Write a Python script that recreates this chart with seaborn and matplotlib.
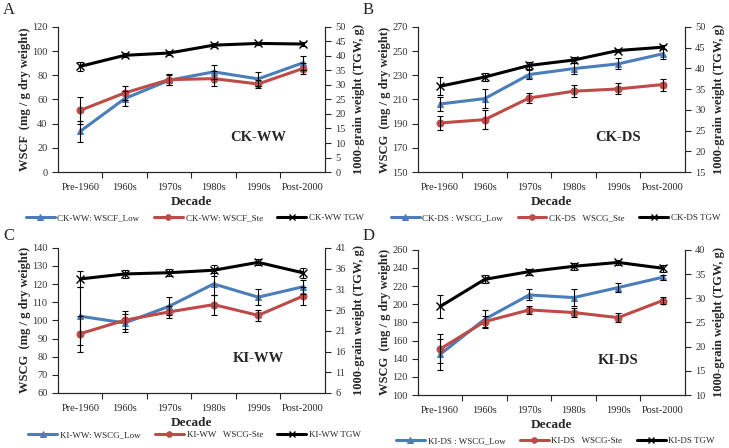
import numpy as np
import pandas as pd
import seaborn as sns
import matplotlib.pyplot as plt

sns.set_style("ticks")
plt.rcParams['font.family'] = ['Liberation Serif', 'DejaVu Serif']

decades = ["Pre-1960", "1960s", "1970s", "1980s", "1990s", "Post-2000"]

# Panel A: CK-WW
a_low = [33.7, 60.7, 75.9, 82.8, 77.0, 90.2]
a_low_err = [8.5, 6.0, 4.0, 5.5, 5.5, 5.5]
a_ste = [51.0, 65.4, 76.4, 77.2, 72.8, 85.5]
a_ste_err = [11.0, 5.5, 4.5, 6.0, 3.5, 4.5]
a_tgw = [36.4, 40.2, 41.0, 43.7, 44.3, 44.1]
a_tgw_err = [1.5, 0.7, 0.7, 0.7, 0.6, 0.7]

# Panel B: CK-DS
b_low = [206.3, 210.7, 230.6, 235.5, 239.4, 247.7]
b_low_err = [6.0, 8.0, 4.0, 4.5, 4.5, 4.0]
b_ste = [190.6, 193.3, 211.2, 216.8, 218.7, 222.3]
b_ste_err = [5.5, 8.0, 4.5, 5.0, 4.5, 5.0]
b_tgw = [35.7, 37.9, 40.7, 42.0, 44.3, 45.1]
b_tgw_err = [2.2, 1.0, 0.8, 0.8, 0.4, 0.5]

# Panel C: KI-WW
c_low = [102.3, 98.6, 107.8, 120.1, 112.8, 118.5]
c_low_err = [16.0, 5.0, 5.0, 6.0, 4.5, 4.0]
c_ste = [92.7, 100.1, 104.7, 108.7, 102.8, 113.3]
c_ste_err = [10.0, 5.0, 3.5, 5.5, 3.0, 5.0]
c_tgw = [33.5, 34.7, 35.0, 35.6, 37.5, 35.0]
c_tgw_err = [2.0, 1.0, 0.8, 1.3, 0.7, 1.2]

# Panel D: KI-DS
d_low = [144.9, 183.5, 210.3, 207.4, 218.4, 229.8]
d_low_err = [17.0, 10.0, 6.0, 9.0, 5.0, 3.0]
d_ste = [150.8, 180.9, 193.8, 190.9, 185.3, 204.1]
d_ste_err = [16.0, 6.0, 4.0, 5.0, 5.0, 4.0]
d_tgw = [28.3, 33.9, 35.5, 36.6, 37.4, 36.2]
d_tgw_err = [2.3, 0.8, 0.6, 0.7, 0.6, 0.7]

BLUE = "#4a7ebb"
RED = "#be4b48"

panels = [
    dict(letter="A", tag="CK-WW", pos=[0.0796, 0.616, 0.366, 0.324],
         low=a_low, low_err=a_low_err, ste=a_ste, ste_err=a_ste_err,
         tgw=a_tgw, tgw_err=a_tgw_err, ylabel="WSCF  (mg / g dry weight)",
         ylim=(0, 120), ystep=20, y2lim=(0, 50), y2step=5,
         names=["CK-WW: WSCF_Low", "CK-WW: WSCF_Ste", "CK-WW TGW"],
         leg=(0.267, 0.513), letter_xy=(0.004, 0.995)),
    dict(letter="B", tag="CK-DS", pos=[0.5734, 0.616, 0.366, 0.324],
         low=b_low, low_err=b_low_err, ste=b_ste, ste_err=b_ste_err,
         tgw=b_tgw, tgw_err=b_tgw_err, ylabel="WSCG  (mg / g dry weight)",
         ylim=(150, 270), ystep=20, y2lim=(15, 50), y2step=5,
         names=["CK-DS : WSCG_Low", "CK-DS   WSCG_Ste", "CK-DS TGW"],
         leg=(0.762, 0.513), letter_xy=(0.497, 0.995)),
    dict(letter="C", tag="KI-WW", pos=[0.0796, 0.1228, 0.366, 0.324],
         low=c_low, low_err=c_low_err, ste=c_ste, ste_err=c_ste_err,
         tgw=c_tgw, tgw_err=c_tgw_err, ylabel="WSCG  (mg / g dry weight)",
         ylim=(60, 140), ystep=10, y2lim=(6, 41), y2step=5,
         names=["KI-WW: WSCG_Low", "KI-WW   WSCG-Ste", "KI-WW TGW"],
         leg=(0.267, 0.029), letter_xy=(0.004, 0.49)),
    dict(letter="D", tag="KI-DS", pos=[0.5734, 0.1183, 0.366, 0.324],
         low=d_low, low_err=d_low_err, ste=d_ste, ste_err=d_ste_err,
         tgw=d_tgw, tgw_err=d_tgw_err, ylabel="WSCG  (mg / g dry weight)",
         ylim=(100, 260), ystep=20, y2lim=(10, 40), y2step=5,
         names=["KI-DS : WSCG_Low", "KI-DS   WSCG-Ste", "KI-DS TGW"],
         leg=(0.762, 0.016), letter_xy=(0.497, 0.49)),
]

fig = plt.figure(figsize=(7.29, 4.48), dpi=100)


def draw_panel(p):
    ax = fig.add_axes(p["pos"])
    ax2 = ax.twinx()
    df = pd.DataFrame({"decade": decades, "low": p["low"], "ste": p["ste"], "tgw": p["tgw"]})
    x = np.arange(len(decades))

    sns.lineplot(data=df, x="decade", y="low", ax=ax, color=BLUE, marker="^",
                 markersize=5, markeredgecolor=BLUE, linewidth=2.2, label=p["names"][0],
                 legend=False, sort=False)
    sns.lineplot(data=df, x="decade", y="ste", ax=ax, color=RED, marker="o",
                 markersize=5, markeredgecolor=RED, linewidth=2.2, label=p["names"][1],
                 legend=False, sort=False)
    ax.errorbar(x, p["low"], yerr=p["low_err"], fmt="none", ecolor="black",
                elinewidth=0.8, capsize=2.5, capthick=0.8, zorder=5)
    ax.errorbar(x, p["ste"], yerr=p["ste_err"], fmt="none", ecolor="black",
                elinewidth=0.8, capsize=2.5, capthick=0.8, zorder=5)

    sns.lineplot(data=df, x="decade", y="tgw", ax=ax2, color="black", marker="x",
                 markersize=6, markeredgewidth=1.0, markeredgecolor="black",
                 linewidth=2.2, label=p["names"][2], legend=False, sort=False)
    ax2.errorbar(x, p["tgw"], yerr=p["tgw_err"], fmt="none", ecolor="black",
                 elinewidth=0.8, capsize=2.5, capthick=0.8, zorder=5)

    ax.set_xlim(-0.5, len(decades) - 0.5)
    ax.set_ylim(*p["ylim"])
    ax.set_yticks(np.arange(p["ylim"][0], p["ylim"][1] + 0.1, p["ystep"]))
    ax2.set_ylim(*p["y2lim"])
    ax2.set_yticks(np.arange(p["y2lim"][0], p["y2lim"][1] + 0.1, p["y2step"]))

    ax.set_xticks(x)
    ax.set_xticklabels(decades)
    ax.set_xticks(np.arange(0.5, len(decades) - 1), minor=True)
    ax.tick_params(axis="x", which="major", length=0, labelsize=7.5, pad=8)
    ax.tick_params(axis="x", which="minor", length=4, width=0.8, direction="out")
    ax.tick_params(axis="y", length=4, width=0.8, labelsize=7.5, labelcolor="#333333")
    ax2.tick_params(axis="y", length=4, width=0.8, labelsize=7.5, labelcolor="#333333")

    for a in (ax, ax2):
        a.spines["top"].set_visible(False)
        for s in ("left", "right", "bottom"):
            a.spines[s].set_linewidth(0.8)

    ax.set_xlabel("Decade", fontsize=9.5, fontweight="bold", labelpad=3)
    ax.set_ylabel(p["ylabel"], fontsize=9, fontweight="bold", labelpad=1)
    ax2.set_ylabel("1000-grain weight (TGW, g)", fontsize=9, fontweight="bold", labelpad=5)

    ax.text(0.75, 0.24, p["tag"], transform=ax.transAxes, ha="center", va="center",
            fontsize=10.5, fontweight="bold")

    h1, l1 = ax.get_legend_handles_labels()
    h2, l2 = ax2.get_legend_handles_labels()
    fig.legend(h1 + h2, l1 + l2, loc="center", bbox_to_anchor=p["leg"], ncol=3,
               frameon=False, fontsize=6.5, handlelength=3.2, handletextpad=0.3,
               columnspacing=1.6, markerscale=0.8)

    fig.text(p["letter_xy"][0], p["letter_xy"][1], p["letter"], ha="left", va="top",
             fontsize=12)


for p in panels:
    draw_panel(p)

fig.savefig("out.png", dpi=100)
